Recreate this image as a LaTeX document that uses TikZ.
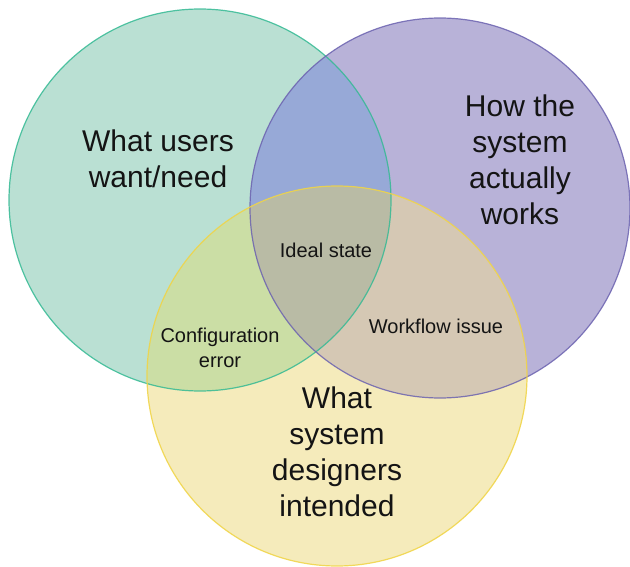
\documentclass[tikz,border=0pt]{standalone}
\usepackage{fontspec}
\setmainfont{Liberation Sans}
\definecolor{gOnly}{HTML}{BAE0D3}
\definecolor{pOnly}{HTML}{B8B2D8}
\definecolor{yOnly}{HTML}{F5EBBB}
\definecolor{gpFill}{HTML}{97A9D7}
\definecolor{gyFill}{HTML}{CBDEA5}
\definecolor{pyFill}{HTML}{D5C8B4}
\definecolor{gpyFill}{HTML}{B9BBA5}
\definecolor{gLine}{HTML}{35BA94}
\definecolor{pLine}{HTML}{6C63B0}
\definecolor{yLine}{HTML}{F0D444}
\definecolor{ink}{HTML}{141414}
\tikzset{
  bigtext/.style={text=ink, align=center, font=\fontsize{30}{36}\selectfont, inner sep=0pt},
  smalltext/.style={text=ink, align=center, font=\fontsize{20}{25}\selectfont, inner sep=0pt},
  rim/.style={line width=1.2pt}
}
\begin{document}
\begin{tikzpicture}[x=1pt,y=-1pt]
\useasboundingbox (0,0) rectangle (630,567);
% circle centres
\coordinate (users) at (200,200);
\coordinate (works) at (440,208);
\coordinate (intent) at (337,376);
\def\rU{191pt}\def\rW{190pt}\def\rI{190pt}
% single regions
\fill[gOnly] (users) circle[radius=\rU];
\fill[pOnly] (works) circle[radius=\rW];
\fill[yOnly] (intent) circle[radius=\rI];
% pairwise overlaps
\begin{scope}
  \clip (users) circle[radius=\rU];
  \fill[gpFill] (works) circle[radius=\rW];
\end{scope}
\begin{scope}
  \clip (users) circle[radius=\rU];
  \fill[gyFill] (intent) circle[radius=\rI];
\end{scope}
\begin{scope}
  \clip (works) circle[radius=\rW];
  \fill[pyFill] (intent) circle[radius=\rI];
\end{scope}
% centre overlap
\begin{scope}
  \clip (users) circle[radius=\rU];
  \clip (works) circle[radius=\rW];
  \fill[gpyFill] (intent) circle[radius=\rI];
\end{scope}
% outlines
\draw[rim, gLine, draw opacity=0.85] (users) circle[radius=\rU];
\draw[rim, pLine, draw opacity=0.85] (works) circle[radius=\rW];
\draw[rim, yLine, draw opacity=0.85] (intent) circle[radius=\rI];
% labels
\node[bigtext] (lblUsers) at (158,159) {What users\\want/need};
\node[bigtext] (lblWorks) at (520,160) {How the\\system\\actually\\works};
\node[bigtext] (lblIntent) at (337,452) {What\\system\\designers\\intended};
\node[smalltext] (lblIdeal) at (326,250) {Ideal state};
\node[smalltext] (lblConfig) at (220,348) {Configuration\\error};
\node[smalltext] (lblFlow) at (436,326) {Workflow issue};
\end{tikzpicture}
\end{document}
